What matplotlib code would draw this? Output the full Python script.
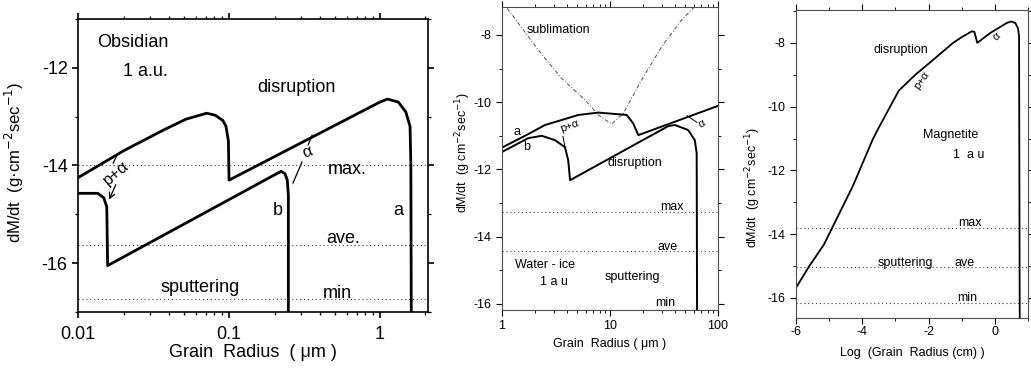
import matplotlib
matplotlib.use("Agg")
import matplotlib.pyplot as plt
from matplotlib.ticker import FixedLocator, NullFormatter, LogLocator

plt.rcParams['font.family'] = ['Liberation Sans', 'DejaVu Sans']
plt.rcParams['axes.unicode_minus'] = False

# ---------------- Panel 1 : Obsidian (grain radius in micron) ----------------
obs_a_r = [0.01, 0.02, 0.037, 0.052, 0.071, 0.081, 0.091, 0.0955, 0.099, 0.1,
           1.0, 1.12, 1.32, 1.48, 1.58, 1.6, 1.61]
obs_a_v = [-14.25, -13.70, -13.27, -13.05, -12.93, -12.97, -13.08, -13.2, -13.5, -14.3,
           -12.70, -12.64, -12.70, -12.90, -13.20, -14.0, -17.1]
obs_b_r = [0.01, 0.0135, 0.0148, 0.0155, 0.0157, 0.209, 0.222, 0.235, 0.243, 0.247, 0.247]
obs_b_v = [-14.57, -14.57, -14.66, -14.85, -16.05, -14.16, -14.12, -14.17, -14.3, -14.6, -17.1]
obs_levels = {'max.': -14.0, 'ave.': -15.62, 'min': -16.73}

# ---------------- Panel 2 : Water-ice (grain radius in micron) ----------------
ice_a_r = [1.0, 1.75, 2.5, 5.1, 7.8, 14.3, 16.4, 18.3, 40.0, 100.0]
ice_a_v = [-11.35, -10.95, -10.68, -10.38, -10.31, -10.38, -10.63, -10.98, -10.58, -10.11]
ice_b_r = [1.0, 1.75, 2.33, 3.1, 3.83, 4.1, 4.27, 34.7, 40.0, 53.0, 61.0, 63.5, 64.0]
ice_b_v = [-11.48, -11.07, -11.0, -11.13, -11.34, -11.72, -12.32, -10.71, -10.68, -10.83,
           -11.13, -11.52, -16.3]
ice_sub_r = [1.0, 2.17, 3.56, 5.86, 7.8, 10.35, 13.3, 19.6, 30.1, 46.1, 63.5]
ice_sub_v = [-7.0, -8.45, -9.29, -9.93, -10.38, -10.65, -10.33, -9.34, -8.35, -7.55, -7.1]
ice_levels = {'max': -13.27, 'ave': -14.43}

# ---------------- Panel 3 : Magnetite (log grain radius in cm) ----------------
mag_logr = [-6.0, -5.6, -5.16, -4.29, -3.69, -3.54, -2.90, -2.40, -1.86, -1.26, -1.0,
            -0.70, -0.62, -0.53, -0.14, 0.37, 0.50, 0.62, 0.70, 0.73, 0.75]
mag_v = [-15.68, -15.0, -14.33, -12.5, -11.04, -10.73, -9.5, -9.0, -8.53, -8.0, -7.82,
         -7.64, -7.65, -8.0, -7.69, -7.37, -7.33, -7.38, -7.55, -7.8, -16.7]
mag_levels = {'max': -13.8, 'ave': -15.02, 'min': -16.15}

fig = plt.figure(figsize=(10.31, 3.74), dpi=100)
ax1 = fig.add_axes([0.0757, 0.1658, 0.3395, 0.7834])
ax2 = fig.add_axes([0.4869, 0.1711, 0.2095, 0.8102])
ax3 = fig.add_axes([0.7721, 0.1497, 0.2250, 0.8235])

dot = dict(color='0.25', lw=0.8, linestyle=(0, (1, 2.5)))

def style(ax, fs, lw):
    for s in ax.spines.values():
        s.set_linewidth(lw)
    ax.tick_params(which='both', direction='out', top=True, right=True, labelsize=fs)
    ax.tick_params(which='major', length=4, width=lw)
    ax.tick_params(which='minor', length=2.5, width=lw * 0.8)

# ---- Panel 1
ax1.set_xscale('log')
ax1.set_xlim(0.01, 2.08)
ax1.set_ylim(-17.0, -11.0)
for name, v in obs_levels.items():
    ax1.axhline(v, **dot)
ax1.plot(obs_a_r, obs_a_v, color='black', lw=2.0, solid_joinstyle='round')
ax1.plot(obs_b_r, obs_b_v, color='black', lw=2.0, solid_joinstyle='round')
ax1.set_xticks([0.01, 0.1, 1])
ax1.set_xticklabels(['0.01', '0.1', '1'])
ax1.xaxis.set_minor_locator(LogLocator(base=10, subs=range(2, 10)))
ax1.xaxis.set_minor_formatter(NullFormatter())
ax1.set_yticks([-16, -14, -12])
ax1.yaxis.set_minor_locator(FixedLocator([-17, -15, -13, -11]))
style(ax1, 13, 1.2)
ax1.tick_params(axis='x', pad=6)
ax1.set_xlabel('Grain  Radius  ( μm )', fontsize=13, labelpad=1)
ax1.set_ylabel('dM/dt  (g·cm$^{-2}$sec$^{-1}$)', fontsize=12)
ax1.yaxis.set_label_coords(-0.148, 0.51)
fs1 = 13
ax1.text(0.0134, -11.49, 'Obsidian', fontsize=fs1, va='center')
ax1.text(0.0199, -12.08, '1 a.u.', fontsize=fs1, va='center')
ax1.text(0.153, -12.41, 'disruption', fontsize=fs1, va='center')
ax1.text(0.453, -14.09, 'max.', fontsize=fs1, va='center')
ax1.text(0.44, -15.49, 'ave.', fontsize=fs1, va='center')
ax1.text(0.42, -16.62, 'min', fontsize=fs1, va='center')
ax1.text(0.0349, -16.5, 'sputtering', fontsize=fs1, va='center')
ax1.text(0.211, -14.92, 'b', fontsize=fs1, ha='center', va='center')
ax1.text(1.31, -14.92, 'a', fontsize=fs1, ha='center', va='center')
ax1.text(0.01786, -14.16, 'p+α', fontsize=12, ha='center', va='center', rotation=40)
ax1.plot([0.0181, 0.0171], [-13.79, -13.95], color='black', lw=0.9)
ax1.annotate('', xy=(0.0158, -14.75), xytext=(0.0181, -14.34),
             arrowprops=dict(arrowstyle='->', lw=0.9, color='black'))
ax1.text(0.329, -13.72, 'α', fontsize=12, ha='center', va='center', rotation=20)
ax1.plot([0.355, 0.334], [-13.38, -13.58], color='black', lw=0.9)
ax1.plot([0.304, 0.265], [-13.93, -14.36], color='black', lw=0.9)

# ---- Panel 2
ax2.set_xscale('log')
ax2.set_xlim(1, 100)
ax2.set_ylim(-16.18, -7.17)
for name, v in ice_levels.items():
    ax2.axhline(v, **dot)
ax2.plot(ice_sub_r, ice_sub_v, color='0.3', lw=0.7, linestyle=(0, (4, 2, 1, 2)))
ax2.plot(ice_a_r, ice_a_v, color='black', lw=1.4)
ax2.plot(ice_b_r, ice_b_v, color='black', lw=1.4)
ax2.set_xticks([1, 10, 100])
ax2.set_xticklabels(['1', '10', '100'])
ax2.xaxis.set_minor_locator(LogLocator(base=10, subs=range(2, 10)))
ax2.xaxis.set_minor_formatter(NullFormatter())
ax2.set_yticks([-16, -14, -12, -10, -8])
ax2.yaxis.set_minor_locator(FixedLocator([-15, -13, -11, -9]))
style(ax2, 9, 0.8)
for s in ax2.spines.values():
    s.set_color('0.3')
ax2.set_xlabel('Grain  Radius ( μm )', fontsize=9, labelpad=4)
ax2.set_ylabel('dM/dt  (g cm$^{-2}$sec$^{-1}$)', fontsize=9)
ax2.yaxis.set_label_coords(-0.135, 0.52)
fs2 = 9
ax2.text(1.70, -7.85, 'sublimation', fontsize=fs2, va='center')
ax2.text(1.38, -10.89, 'a', fontsize=fs2, ha='center', va='center')
ax2.text(1.70, -11.33, 'b', fontsize=fs2, ha='center', va='center')
ax2.text(9.58, -11.81, 'disruption', fontsize=fs2, va='center')
ax2.text(29.0, -13.12, 'max', fontsize=fs2, va='center')
ax2.text(27.8, -14.31, 'ave', fontsize=fs2, va='center')
ax2.text(1.32, -14.85, 'Water - ice', fontsize=fs2, va='center')
ax2.text(2.25, -15.35, '1 a u', fontsize=fs2, va='center')
ax2.text(8.99, -15.2, 'sputtering', fontsize=fs2, va='center')
ax2.text(26.1, -15.98, 'min', fontsize=fs2, va='center')
ax2.text(4.2, -10.71, 'p+α', fontsize=8, ha='center', va='center', rotation=20)
ax2.plot([3.83, 3.67], [-11.33, -11.02], color='black', lw=0.7)
ax2.text(71.1, -10.65, 'α', fontsize=8, ha='center', va='center', rotation=30)
ax2.plot([51.6, 63.9], [-10.40, -10.60], color='black', lw=0.7)

# ---- Panel 3
ax3.set_xlim(-6, 1)
ax3.set_ylim(-16.63, -6.97)
for name, v in mag_levels.items():
    ax3.axhline(v, **dot)
ax3.plot(mag_logr, mag_v, color='black', lw=1.3)
ax3.set_xticks([-6, -4, -2, 0])
ax3.xaxis.set_minor_locator(FixedLocator([-5, -3, -1, 1]))
ax3.set_yticks([-16, -14, -12, -10, -8])
ax3.yaxis.set_minor_locator(FixedLocator([-15, -13, -11, -9, -7]))
style(ax3, 9, 0.8)
ax3.tick_params(axis='x', pad=2)
for s in ax3.spines.values():
    s.set_color('0.3')
ax3.set_xlabel('Log  (Grain  Radius (cm) )', fontsize=9, labelpad=6)
ax3.set_ylabel('dM/dt  (g cm$^{-2}$sec$^{-1}$)', fontsize=9)
ax3.yaxis.set_label_coords(-0.142, 0.425)
fs3 = 9
ax3.text(-3.66, -8.22, 'disruption', fontsize=fs3, va='center')
ax3.text(-2.20, -9.16, 'p+α', fontsize=8, ha='center', va='center', rotation=55)
ax3.text(0.05, -7.81, 'α', fontsize=8, ha='center', va='center', rotation=45)
ax3.text(-2.17, -10.88, 'Magnetite', fontsize=fs3, va='center')
ax3.text(-1.27, -11.51, '1  a u', fontsize=fs3, va='center')
ax3.text(-1.12, -13.66, 'max', fontsize=fs3, va='center')
ax3.text(-3.54, -14.9, 'sputtering', fontsize=fs3, va='center')
ax3.text(-1.21, -14.9, 'ave', fontsize=fs3, va='center')
ax3.text(-1.15, -15.99, 'min', fontsize=fs3, va='center')

fig.savefig('out.png', dpi=100, facecolor='white')
